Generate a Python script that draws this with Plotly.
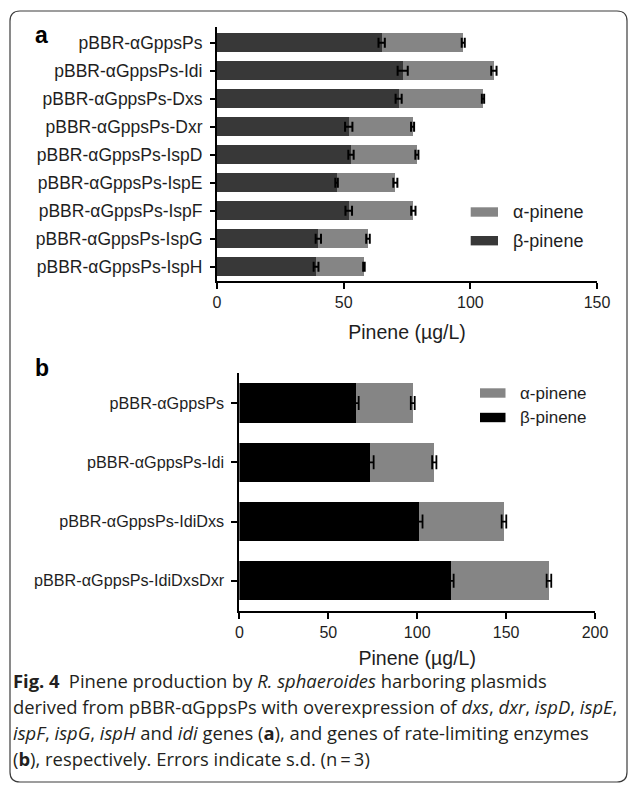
import plotly.graph_objects as go

# ---------------- data ----------------
cats_a = ["pBBR-αGppsPs", "pBBR-αGppsPs-Idi", "pBBR-αGppsPs-Dxs", "pBBR-αGppsPs-Dxr",
          "pBBR-αGppsPs-IspD", "pBBR-αGppsPs-IspE", "pBBR-αGppsPs-IspF",
          "pBBR-αGppsPs-IspG", "pBBR-αGppsPs-IspH"]
beta_a = [65.0, 73.3, 71.7, 52.0, 52.9, 47.2, 52.0, 40.0, 39.1]
alpha_a = [32.2, 36.0, 33.3, 25.2, 26.0, 23.2, 25.5, 19.6, 18.9]
beta_err_a = [1.25, 2.0, 1.2, 1.45, 1.05, 0.5, 1.3, 1.05, 0.95]
alpha_err_a = [0.6, 1.05, 0.45, 0.6, 0.6, 0.8, 0.85, 0.7, 0.3]

cats_b = ["pBBR-αGppsPs", "pBBR-αGppsPs-Idi", "pBBR-αGppsPs-IdiDxs", "pBBR-αGppsPs-IdiDxsDxr"]
beta_b = [65.4, 73.6, 101.0, 118.8]
alpha_b = [32.1, 36.0, 47.8, 55.3]
beta_err_b = [1.7, 1.9, 2.0, 1.7]
alpha_err_b = [1.1, 1.2, 1.3, 1.3]

ticks_a = [0, 50, 100, 150]
ticks_b = [0, 50, 100, 150, 200]
x_title = "Pinene (µg/L)"
series_names = ["α-pinene", "β-pinene"]

W, H = 629, 786
def fx(px):
    return px / W
def fy(py):
    return 1 - py / H

total_a = [b + a for b, a in zip(beta_a, alpha_a)]
total_b = [b + a for b, a in zip(beta_b, alpha_b)]

col_beta_a = "#383838"
col_alpha = "#858585"
col_beta_b = "#000000"
txt = "#1e1e1e"
lab_font = "Arial, Liberation Sans, sans-serif"

fig = go.Figure()

# panel a bars
fig.add_trace(go.Bar(orientation="h", y=cats_a, x=beta_a, width=0.66,
                     marker=dict(color=col_beta_a, line=dict(width=0)),
                     name=series_names[1], xaxis="x", yaxis="y", showlegend=False))
fig.add_trace(go.Bar(orientation="h", y=cats_a, x=alpha_a, width=0.66,
                     marker=dict(color=col_alpha, line=dict(width=0)),
                     name=series_names[0], xaxis="x", yaxis="y", showlegend=False))
# panel a error bars
fig.add_trace(go.Scatter(x=beta_a, y=cats_a, mode="markers", xaxis="x", yaxis="y",
                         marker=dict(size=1, color="rgba(0,0,0,0)"), showlegend=False, hoverinfo="skip",
                         error_x=dict(type="data", array=beta_err_a, color="black", thickness=2, width=5)))
fig.add_trace(go.Scatter(x=total_a, y=cats_a, mode="markers", xaxis="x", yaxis="y",
                         marker=dict(size=1, color="rgba(0,0,0,0)"), showlegend=False, hoverinfo="skip",
                         error_x=dict(type="data", array=alpha_err_a, color="black", thickness=2, width=5)))

# panel b bars
fig.add_trace(go.Bar(orientation="h", y=cats_b, x=beta_b, width=0.66,
                     marker=dict(color=col_beta_b, line=dict(width=0)),
                     name=series_names[1], xaxis="x2", yaxis="y2", showlegend=False))
fig.add_trace(go.Bar(orientation="h", y=cats_b, x=alpha_b, width=0.66,
                     marker=dict(color=col_alpha, line=dict(width=0)),
                     name=series_names[0], xaxis="x2", yaxis="y2", showlegend=False))
fig.add_trace(go.Scatter(x=beta_b, y=cats_b, mode="markers", xaxis="x2", yaxis="y2",
                         marker=dict(size=1, color="rgba(0,0,0,0)"), showlegend=False, hoverinfo="skip",
                         error_x=dict(type="data", array=beta_err_b, color="black", thickness=1.8, width=7)))
fig.add_trace(go.Scatter(x=total_b, y=cats_b, mode="markers", xaxis="x2", yaxis="y2",
                         marker=dict(size=1, color="rgba(0,0,0,0)"), showlegend=False, hoverinfo="skip",
                         error_x=dict(type="data", array=alpha_err_b, color="black", thickness=1.8, width=7)))

axis_common = dict(showgrid=False, zeroline=False, showline=True, linecolor="black",
                   linewidth=2, ticks="outside", tickcolor="black", tickwidth=2, automargin=False)

fig.update_layout(
    width=W, height=H, margin=dict(l=0, r=0, t=0, b=0),
    paper_bgcolor="white", plot_bgcolor="white", barmode="stack",
    font=dict(family=lab_font, color=txt),
    xaxis=dict(domain=[fx(217), fx(597)], range=[0, 150], tickvals=ticks_a, anchor="y",
               ticklen=6, tickfont=dict(size=16, family=lab_font, color=txt),
               title=dict(text=x_title, font=dict(size=19.5, family=lab_font, color=txt), standoff=15),
               **axis_common),
    yaxis=dict(domain=[fy(281), fy(27)], range=[8.51, -0.56], type="category", anchor="x",
               ticklen=5, ticklabelstandoff=4, tickfont=dict(size=17.5, family=lab_font, color=txt),
               **axis_common),
    xaxis2=dict(domain=[fx(239.4), fx(595)], range=[0, 200], tickvals=ticks_b, anchor="y2",
                ticklen=6, tickfont=dict(size=16, family=lab_font, color=txt),
                title=dict(text=x_title, font=dict(size=19.5, family=lab_font, color=txt), standoff=11),
                **axis_common),
    yaxis2=dict(domain=[fy(611), fy(373)], range=[3.51, -0.507], type="category", anchor="x2",
                ticklen=6, ticklabelstandoff=4, tickfont=dict(size=16.2, family=lab_font, color=txt),
                **axis_common),
)

shapes = []
annotations = []

# rounded frame
L, T, R, B, r = 10, 11, 627, 782, 10
pts = [
    ("M", [(L + r, T)]), ("L", [(R - r, T)]), ("Q", [(R, T), (R, T + r)]),
    ("L", [(R, B - r)]), ("Q", [(R, B), (R - r, B)]), ("L", [(L + r, B)]),
    ("Q", [(L, B), (L, B - r)]), ("L", [(L, T + r)]), ("Q", [(L, T), (L + r, T)]),
]
path = ""
for cmd, ps in pts:
    path += cmd + " ".join(f"{fx(x):.5f},{fy(y):.5f}" for x, y in ps) + " "
path += "Z"
shapes.append(dict(type="path", xref="paper", yref="paper", path=path,
                   line=dict(color="#3c3c3c", width=1.2), fillcolor="rgba(0,0,0,0)", layer="below"))

# legends (manual swatches)
def legend(x0, x1, yc_list, cols, tx, size):
    for yc, c, name in zip(yc_list, cols, series_names):
        shapes.append(dict(type="rect", xref="paper", yref="paper",
                           x0=fx(x0), x1=fx(x1), y0=fy(yc + 4.7), y1=fy(yc - 4.7),
                           fillcolor=c, line=dict(width=0)))
        annotations.append(dict(xref="paper", yref="paper", x=fx(tx), y=fy(yc), xanchor="left",
                                yanchor="middle", showarrow=False, text=name,
                                font=dict(size=size, family=lab_font, color=txt)))

legend(470.7, 498, [212, 240.7], [col_alpha, col_beta_a], 511, 18)
legend(480, 505.5, [393, 417.5], [col_alpha, col_beta_b], 518, 17)

# panel letters
annotations.append(dict(xref="paper", yref="paper", x=fx(33), y=fy(35), xanchor="left", yanchor="middle",
                        showarrow=False, text="<b>a</b>", font=dict(size=23, family=lab_font, color="black")))
annotations.append(dict(xref="paper", yref="paper", x=fx(33), y=fy(368), xanchor="left", yanchor="middle",
                        showarrow=False, text="<b>b</b>", font=dict(size=23, family=lab_font, color="black")))

# caption
cap_font = "Open Sans, Noto Sans, sans-serif"
cap_lines = [
    "<b>Fig. 4</b>\u2002Pinene production by <i>R. sphaeroides</i> harboring plasmids",
    "derived from pBBR-αGppsPs with overexpression of <i>dxs</i>, <i>dxr</i>, <i>ispD</i>, <i>ispE</i>,",
    "<i>ispF</i>, <i>ispG</i>, <i>ispH</i> and <i>idi</i> genes (<b>a</b>), and genes of rate-limiting enzymes",
    "(<b>b</b>), respectively. Errors indicate s.d. (n\u2009=\u20093)",
]
for i, line in enumerate(cap_lines):
    annotations.append(dict(xref="paper", yref="paper", x=fx(11), y=fy(680 + 26 * i), xanchor="left",
                            yanchor="middle", showarrow=False, text=line,
                            font=dict(size=18.4, family=cap_font, color="#231f20")))

fig.update_layout(shapes=shapes, annotations=annotations)
fig.write_html("out.html", config={"displayModeBar": False},
               post_script="document.body.style.margin='0px';document.body.style.overflow='hidden';")
